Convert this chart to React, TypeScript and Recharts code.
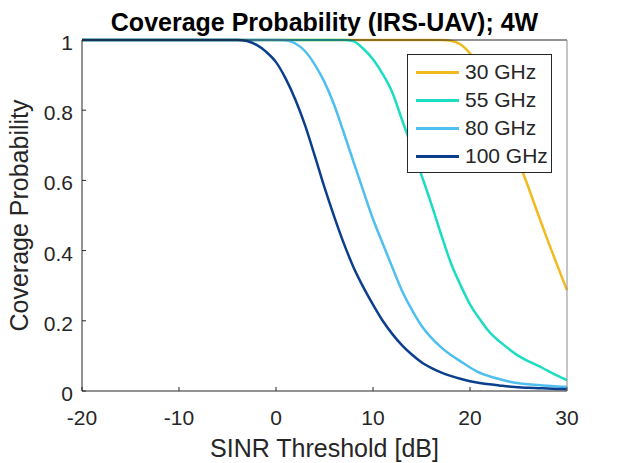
import { LineChart, Line, XAxis, YAxis, Legend, Label } from "recharts";

// SINR threshold samples [dB] (denser where the curves bend)
const SINR_DB = [
  -20, -10, -5, -4, -3, -2, -1, 0, 1, 2, 3, 4, 5, 6, 7, 8, 9, 10, 11, 12, 13,
  14, 15, 16, 17, 18, 19, 20, 21, 22, 23, 24, 25, 26, 27, 28, 29, 30,
];

const P_30GHZ = [
  1, 1, 1, 1, 1, 1, 1, 1, 1, 1, 1, 1, 1, 1, 1, 1, 1, 1, 1, 1, 1, 1, 1, 1, 1,
  0.998, 0.988, 0.962, 0.925, 0.87, 0.805, 0.73, 0.655, 0.582, 0.505, 0.43, 0.358, 0.287,
];

const P_55GHZ = [
  1, 1, 1, 1, 1, 1, 1, 1, 1, 1, 1, 1, 1, 1, 1,
  0.996, 0.975, 0.945, 0.903, 0.85, 0.772, 0.695, 0.615, 0.534, 0.448, 0.367, 0.303,
  0.247, 0.205, 0.168, 0.142, 0.12, 0.1, 0.085, 0.072, 0.058, 0.044, 0.031,
];

const P_80GHZ = [
  1, 1, 1, 1, 1, 1, 1, 1,
  0.999, 0.99, 0.968, 0.93, 0.88, 0.815, 0.735, 0.652, 0.57, 0.49, 0.42, 0.352,
  0.285, 0.232, 0.186, 0.152, 0.125, 0.103, 0.085, 0.067, 0.052, 0.042, 0.034,
  0.027, 0.022, 0.019, 0.017, 0.015, 0.013, 0.012,
];

const P_100GHZ = [
  1, 1, 1, 1,
  0.997, 0.986, 0.966, 0.937, 0.89, 0.83, 0.757, 0.67, 0.58, 0.497, 0.42, 0.352,
  0.296, 0.246, 0.2, 0.162, 0.13, 0.104, 0.082, 0.066, 0.053, 0.043, 0.035, 0.028,
  0.023, 0.019, 0.016, 0.013, 0.011, 0.009, 0.008, 0.007, 0.006, 0.005,
];

const X_TICKS = [-20, -10, 0, 10, 20, 30];
const Y_TICKS = [0, 0.2, 0.4, 0.6, 0.8, 1];

const SERIES = [
  { key: "p30", name: "30 GHz", color: "#f0bb1e", values: P_30GHZ },
  { key: "p55", name: "55 GHz", color: "#1cdcc2", values: P_55GHZ },
  { key: "p80", name: "80 GHz", color: "#4fbfef", values: P_80GHZ },
  { key: "p100", name: "100 GHz", color: "#0b3f8e", values: P_100GHZ },
];

const data = SINR_DB.map((x, i) => {
  const row: Record<string, number> = { x };
  SERIES.forEach((s) => (row[s.key] = s.values[i]));
  return row;
});

const INK = "#262626";
const FONT = "'Liberation Sans', Arial, sans-serif";

function XTick({ x, y, payload }: any) {
  return (
    <text x={x} y={y + 33.5} textAnchor="middle" fontSize={21} fill={INK}>
      {payload.value}
    </text>
  );
}

function YTick({ x, y, payload }: any) {
  return (
    <text x={x} y={y + 10} textAnchor="end" fontSize={21} fill={INK}>
      {payload.value}
    </text>
  );
}

// legend keeps the plotting order (recharts would sort it by name)
function LegendBox() {
  return (
    <div style={{ border: `1px solid ${INK}`, background: "#fff", boxSizing: "border-box",
      width: 145, height: 119, paddingTop: 3 }}>
      {SERIES.map((s) => (
        <div key={s.key} style={{ display: "flex", alignItems: "center", height: 28 }}>
          <span style={{ marginLeft: 8, width: 43, height: 3, background: s.color }} />
          <span style={{ marginLeft: 6, fontSize: 21, color: INK, lineHeight: "28px" }}>{s.name}</span>
        </div>
      ))}
    </div>
  );
}

export default function App() {
  return (
    <div style={{ position: "absolute", left: 0, top: 0, width: 627, height: 463, fontFamily: FONT, background: "#fff" }}>
      <LineChart width={627} height={463} data={data} margin={{ top: 39, right: 59, left: 0, bottom: 22 }}>
        <XAxis dataKey="x" type="number" domain={[-20, 30]} ticks={X_TICKS} height={50}
          tickSize={-4} tickMargin={4} tick={<XTick />}
          axisLine={{ stroke: INK }} tickLine={{ stroke: INK }}>
          <Label content={() => (
            <text x={324.5} y={456.5} textAnchor="middle" fontSize={25} fill={INK}>SINR Threshold [dB]</text>
          )} />
        </XAxis>
        <YAxis type="number" domain={[0, 1]} ticks={Y_TICKS} width={82}
          tickSize={-4} tickMargin={13} tick={<YTick />}
          axisLine={{ stroke: INK }} tickLine={{ stroke: INK }}>
          <Label content={() => (
            <text x={28} y={215.5} transform="rotate(-90 28 215.5)" textAnchor="middle" fontSize={25} fill={INK}>
              Coverage Probability
            </text>
          )} />
        </YAxis>
        <XAxis xAxisId="top" orientation="top" type="number" domain={[-20, 30]} allowDataOverflow
          ticks={X_TICKS} tick={false} tickSize={-4} height={1}
          axisLine={{ stroke: INK }} tickLine={{ stroke: INK }}>
          <Label content={() => (
            <text x={324.5} y={30.5} textAnchor="middle" fontSize={25} fontWeight="bold" fill="#000">
              Coverage Probability (IRS-UAV); 4W
            </text>
          )} />
        </XAxis>
        <YAxis yAxisId="right" orientation="right" type="number" domain={[0, 1]} allowDataOverflow
          ticks={Y_TICKS} tick={false} tickSize={-4} width={1}
          axisLine={{ stroke: "#8c8c8c" }} tickLine={{ stroke: INK }} />
        {SERIES.map((s) => (
          <Line key={s.key} dataKey={s.key} name={s.name} type="monotone" stroke={s.color}
            strokeWidth={2.5} dot={false} activeDot={false} isAnimationActive={false} />
        ))}
        <Legend layout="vertical" align="center" verticalAlign="middle" content={<LegendBox />}
          wrapperStyle={{ left: 407, top: 54, width: 145, height: 119 }} />
      </LineChart>
    </div>
  );
}
